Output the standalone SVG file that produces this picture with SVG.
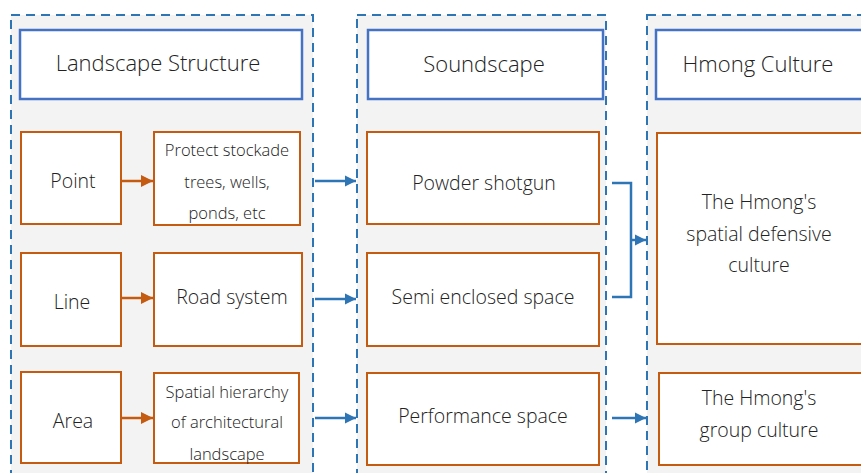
<svg xmlns="http://www.w3.org/2000/svg" width="861" height="473" viewBox="0 0 861 473">
<defs>
<style>
.cont{fill:#f3f3f3;stroke:#2e75b6;stroke-width:2;stroke-dasharray:9 6}
.hdr{fill:#fff;stroke:#4472c4;stroke-width:2.5}
.box{fill:#fff;stroke:#c55a11;stroke-width:2}
text{font-family:"Open Sans","Noto Sans",sans-serif;font-weight:300;fill:#222;text-anchor:middle}
.h{font-size:22px}
.m{font-size:19.5px}
.s{font-size:16.5px}
.oc{stroke:#c55a11;stroke-width:2.5;fill:none}
.bc{stroke:#2e75b6;stroke-width:2.5;fill:none}
</style>
<marker id="ao" viewBox="0 0 10 10" refX="10" refY="5" markerWidth="5" markerHeight="5" orient="auto" markerUnits="strokeWidth"><path d="M0,0L10,5L0,10z" fill="#c55a11"/></marker>
<marker id="ab" viewBox="0 0 10 10" refX="10" refY="5" markerWidth="4.5" markerHeight="4.5" orient="auto" markerUnits="strokeWidth"><path d="M0,0L10,5L0,10z" fill="#2e75b6"/></marker>
</defs>
<rect width="861" height="473" fill="#fff"/>
<g id="containers">
<rect class="cont" x="11" y="15" width="302" height="470"/>
<rect class="cont" x="357" y="15" width="249" height="470"/>
<rect class="cont" x="647" y="15" width="230" height="470"/>
</g>
<g id="h1"><rect class="hdr" x="20" y="30" width="282" height="69"/><text class="h" x="158" y="71">Landscape Structure</text></g>
<g id="h2"><rect class="hdr" x="368" y="30" width="235" height="69"/><text class="h" x="484" y="72">Soundscape</text></g>
<g id="h3"><rect class="hdr" x="656" y="30" width="220" height="69"/><text class="h" x="758" y="72">Hmong Culture</text></g>
<g id="point"><rect class="box" x="21" y="132" width="100" height="92"/><text class="m" x="73" y="188">Point</text></g>
<g id="protect"><rect class="box" x="154" y="132" width="146" height="93"/><text class="s" x="227" y="156">Protect stockade</text><text class="s" x="227" y="188">trees, wells,</text><text class="s" x="227" y="219">ponds, etc</text></g>
<g id="line"><rect class="box" x="21" y="253" width="100" height="93"/><text class="m" x="72" y="309">Line</text></g>
<g id="road"><rect class="box" x="154" y="253" width="148" height="93"/><text class="m" x="232" y="304">Road system</text></g>
<g id="area"><rect class="box" x="21" y="372" width="100" height="91"/><text class="m" x="73" y="428">Area</text></g>
<g id="spatial"><rect class="box" x="154" y="373" width="145" height="90"/><text class="s" x="227" y="398">Spatial hierarchy</text><text class="s" x="227" y="428">of architectural</text><text class="s" x="227" y="460">landscape</text></g>
<g id="powder"><rect class="box" x="367" y="132" width="232" height="92"/><text class="m" x="484" y="190">Powder shotgun</text></g>
<g id="semi"><rect class="box" x="367" y="253" width="232" height="93"/><text class="m" x="483" y="304">Semi enclosed space</text></g>
<g id="perf"><rect class="box" x="367" y="373" width="232" height="92"/><text class="m" x="483" y="423">Performance space</text></g>
<g id="defensive"><rect class="box" x="657" y="133" width="210" height="211"/><text class="m" x="759" y="209">The Hmong's</text><text class="m" x="759" y="241">spatial defensive</text><text class="m" x="759" y="272">culture</text></g>
<g id="group"><rect class="box" x="659" y="373" width="210" height="92"/><text class="m" x="759" y="405">The Hmong's</text><text class="m" x="759" y="437">group culture</text></g>
<g id="connectors">
<path class="oc" d="M121,181H153" marker-end="url(#ao)"/>
<path class="oc" d="M121,298H153" marker-end="url(#ao)"/>
<path class="oc" d="M121,418H153" marker-end="url(#ao)"/>
<path class="bc" d="M315,181H356" marker-end="url(#ab)"/>
<path class="bc" d="M315,299H356" marker-end="url(#ab)"/>
<path class="bc" d="M315,418H356" marker-end="url(#ab)"/>
<path class="bc" d="M612,183H631V297H612"/>
<path class="bc" d="M631,240H646" marker-end="url(#ab)"/>
<path class="bc" d="M612,418H646" marker-end="url(#ab)"/>
</g>
</svg>
